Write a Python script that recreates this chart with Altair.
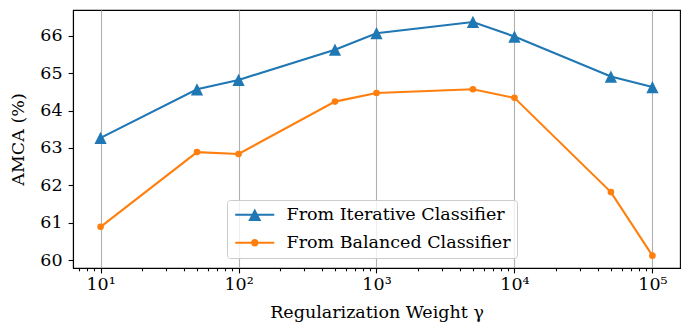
import altair as alt
import pandas as pd

# ---- data ----
gamma = [10, 50, 100, 500, 1000, 5000, 10000, 50000, 100000]
iterative = [63.27, 64.57, 64.82, 65.63, 66.07, 66.37, 65.98, 64.91, 64.63]
balanced = [60.89, 62.89, 62.84, 64.24, 64.47, 64.57, 64.34, 61.82, 60.12]
series_names = ["From Iterative Classifier", "From Balanced Classifier"]
colors = ["#1f77b4", "#ff7f0e"]
major_ticks = [10, 100, 1000, 10000, 100000]
minor_ticks = [7, 8, 9] + [m * 10 ** e for e in range(1, 5) for m in range(2, 10)]
y_ticks = [60, 61, 62, 63, 64, 65, 66]

df = pd.DataFrame({
    "gamma": gamma * 2,
    "amca": iterative + balanced,
    "series": [series_names[0]] * len(gamma) + [series_names[1]] * len(gamma),
})

FONT = "DejaVu Serif"
FS = 17.5

xscale = alt.Scale(type="log", domain=[6.31, 158489], nice=False)
yscale = alt.Scale(domain=[59.79, 66.69], nice=False, zero=False)
cscale = alt.Scale(domain=series_names, range=colors)

tri_path = "M0,-1L1,1L-1,1Z"
# legend handles: a line segment with the marker in its middle
leg_tri = "M-1,-0.16L5,-0.16L5,0.16L-1,0.16Z M2,-0.95L3,0.95L1,0.95Z"
leg_circ = ("M-1,-0.16L5,-0.16L5,0.16L-1,0.16Z "
            "M2.577,0A0.577,0.577 0 1,1 1.423,0A0.577,0.577 0 1,1 2.577,0Z")

is_major = "abs(log(datum.value)/LN10 - round(log(datum.value)/LN10)) < 0.000001"
sup = "['\u2070','\u00b9','\u00b2','\u00b3','\u2074','\u2075','\u2076']"
label_expr = ("(" + is_major + ") ? '10' + " + sup +
              "[round(log(datum.value)/LN10)] : ''")

base = alt.Chart(df)
blue = base.transform_filter(alt.datum.series == series_names[0])
orange = base.transform_filter(alt.datum.series == series_names[1])

x_main = alt.X("gamma:Q", scale=xscale,
               axis=alt.Axis(values=sorted(major_ticks + minor_ticks), labelExpr=label_expr,
                             title="Regularization Weight \u03b3",
                             grid=True, gridColor="#b0b0b0", gridWidth=1.1,
                             gridOpacity={"condition": {"test": is_major, "value": 1}, "value": 0},
                             tickSize={"condition": {"test": is_major, "value": 4.9}, "value": 2.8},
                             labelPadding=3, titlePadding=10))
y_main = alt.Y("amca:Q", scale=yscale,
               axis=alt.Axis(values=y_ticks, title="AMCA (%)", grid=False,
                             tickSize=4.9, labelPadding=6, titlePadding=12))
x_plain = alt.X("gamma:Q", scale=xscale)
y_plain = alt.Y("amca:Q", scale=yscale)

blue_line = blue.mark_line(strokeWidth=2.1, color=colors[0]).encode(x=x_main, y=y_main)
orange_line = orange.mark_line(strokeWidth=2.1, color=colors[1]).encode(x=x_plain, y=y_plain)

blue_pts = blue.mark_point(
    shape=tri_path, filled=True, size=150, opacity=1, color=colors[0], strokeWidth=0
).encode(x=x_plain, y=y_plain)

orange_pts = orange.mark_circle(size=44, opacity=1, color=colors[1]).encode(x=x_plain, y=y_plain)

legend_props = dict(
    title=None, orient="none", legendX=154, legendY=190,
    fillColor="rgba(255,255,255,0.8)", strokeColor="#cccccc", cornerRadius=3,
    padding=6, labelFont=FONT, labelFontSize=FS, labelColor="black", labelLimit=500,
    symbolSize=169, symbolStrokeWidth=0, rowPadding=9, labelOffset=36,
)

legend_layer = base.transform_filter("false").mark_point(filled=True, opacity=1).encode(
    x=x_plain, y=y_plain,
    color=alt.Color("series:N", scale=cscale, legend=alt.Legend(**legend_props)),
    shape=alt.Shape("series:N", scale=alt.Scale(domain=series_names, range=[leg_tri, leg_circ]),
                    legend=alt.Legend(**legend_props)),
)

chart = alt.layer(blue_line, orange_line, blue_pts, orange_pts, legend_layer).properties(
    width=607, height=258,
    background="white",
    autosize=alt.AutoSizeParams(type="none"),
    padding={"left": 65, "top": 2, "right": 6, "bottom": 56},
).configure_view(
    stroke="black", strokeWidth=1.1
).configure_axis(
    labelFont=FONT, labelFontSize=FS, labelColor="black",
    titleFont=FONT, titleFontSize=FS, titleFontWeight="normal", titleColor="black",
    domainColor="black", domainWidth=1.1, tickColor="black", tickWidth=1.1,
)

chart.save("out.html", embed_options={"renderer": "svg", "actions": False})
